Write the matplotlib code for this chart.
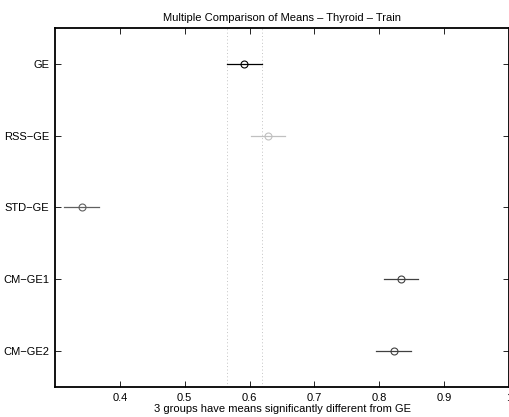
import matplotlib
matplotlib.use("Agg")
import matplotlib.pyplot as plt

groups = ["GE", "RSS\u2212GE", "STD\u2212GE", "CM\u2212GE1", "CM\u2212GE2"]
means = [0.592, 0.628, 0.341, 0.833, 0.822]
half_width = [0.0265, 0.0265, 0.0265, 0.0265, 0.0265]
colors = ["#000000", "#c0c0c0", "#606060", "#404040", "#404040"]
xticks = [0.4, 0.5, 0.6, 0.7, 0.8, 0.9, 1.0]
xticklabels = ["0.4", "0.5", "0.6", "0.7", "0.8", "0.9", "1"]

plt.rcParams['font.family'] = ['Liberation Sans', 'DejaVu Sans']
fig = plt.figure(figsize=(5.1, 4.17), dpi=100)
ax = fig.add_axes([55/510, 30/417, 454/510, 359/417])

ypos = list(range(1, len(groups) + 1))
ref_lo = means[0] - half_width[0]
ref_hi = means[0] + half_width[0]
ax.axvline(ref_lo, color="#c4c4c4", linestyle=(0, (1, 2.5)), linewidth=0.7)
ax.axvline(ref_hi, color="#c4c4c4", linestyle=(0, (1, 2.5)), linewidth=0.7)

for y, m, h, c in zip(ypos, means, half_width, colors):
    ax.plot([m - h, m + h], [y, y], color=c, linewidth=0.9)
    ax.plot([m], [y], marker="o", markersize=5, markerfacecolor="none",
            markeredgecolor=c, markeredgewidth=0.8, linestyle="none")

ax.set_xlim(0.3, 1.0)
ax.set_ylim(5.5, 0.5)
ax.set_yticks(ypos)
ax.set_yticklabels(groups, fontsize=8)
ax.set_xticks(xticks)
ax.set_xticklabels(xticklabels, fontsize=8)
ax.tick_params(direction="in", top=True, right=True, length=4, width=0.6, pad=4)
for s in ax.spines.values():
    s.set_linewidth(1.3)
ax.set_title("Multiple Comparison of Means \u2013 Thyroid \u2013 Train", fontsize=8, pad=5)
ax.set_xlabel("3 groups have means significantly different from GE", fontsize=8, labelpad=1)

fig.savefig("out.png", dpi=100)
